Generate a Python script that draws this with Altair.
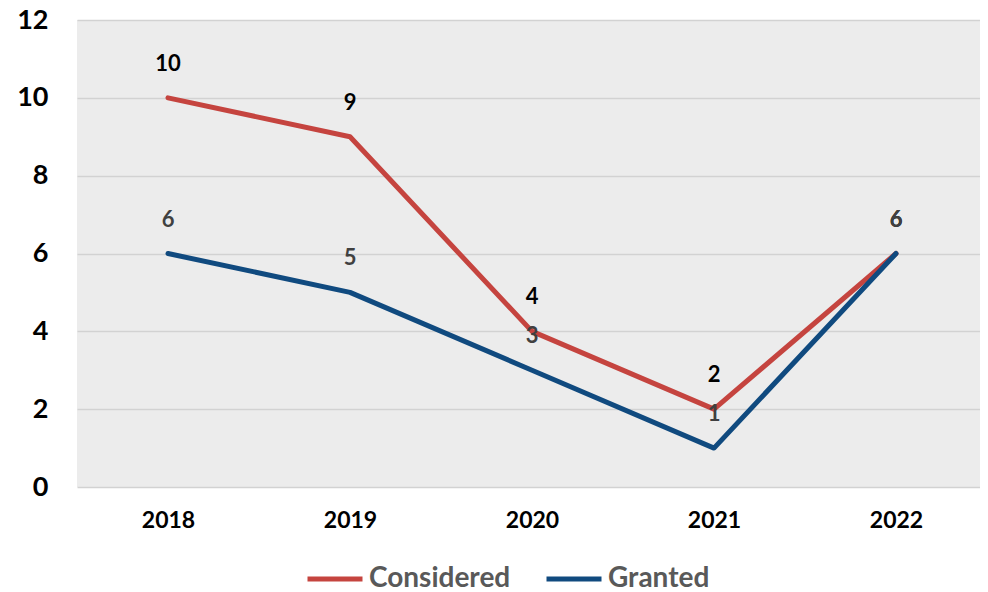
import altair as alt
import pandas as pd

years = ["2018", "2019", "2020", "2021", "2022"]
considered = [10, 9, 4, 2, 6]
granted = [6, 5, 3, 1, 6]
series_names = ["Considered", "Granted"]
colors = ["#C5443F", "#104A7F"]
label_colors = ["#000000", "#404040"]

rows = []
for y, v in zip(years, considered):
    rows.append({"year": y, "value": v, "series": "Considered"})
for y, v in zip(years, granted):
    rows.append({"year": y, "value": v, "series": "Granted"})
df = pd.DataFrame(rows)

FONT = "Lato"

x_scale = alt.Scale(paddingInner=0, paddingOuter=0, range=[0, 910])

x_enc = alt.X("year:N", sort=years, title=None, scale=x_scale,
              axis=alt.Axis(labelAngle=0, labelFont=FONT, labelFontSize=23,
                            labelFontWeight="bold", labelColor="#000000",
                            labelPadding=22, ticks=False, domain=False, grid=False))
y_enc = alt.Y("value:Q", title=None,
              scale=alt.Scale(domain=[0, 12], nice=False),
              axis=alt.Axis(values=[0, 2, 4, 6, 8, 10, 12], labelFont=FONT,
                            labelFontSize=27, labelFontWeight="bold",
                            labelColor="#000000", labelPadding=29,
                            ticks=False, domain=False, grid=True,
                            gridColor="#d2d2d2", gridWidth=1.5))

lines = alt.Chart(df).mark_line(strokeWidth=5, strokeCap="round", strokeJoin="round").encode(
    x=x_enc,
    y=y_enc,
    color=alt.Color("series:N", sort=series_names,
                    scale=alt.Scale(domain=series_names, range=colors),
                    legend=alt.Legend(title=None, orient="none", direction="horizontal",
                                      legendX=228, legendY=529,
                                      symbolType="stroke", symbolSize=3025,
                                      symbolStrokeWidth=5,
                                      labelFont=FONT, labelFontSize=28,
                                      labelFontWeight="bold", labelColor="#595959",
                                      labelOffset=4, columnPadding=25)),
    detail="series:N",
)

labels = alt.Chart(df).mark_text(dy=-34, font=FONT, fontSize=22, fontWeight="bold").encode(
    x=alt.X("year:N", sort=years, scale=x_scale),
    y=alt.Y("value:Q"),
    text=alt.Text("value:Q"),
    color=alt.Color("series:N", scale=alt.Scale(domain=series_names, range=label_colors), legend=None),
)

chart = alt.layer(lines, labels).resolve_scale(color="independent").properties(
    width=903, height=467,
    autosize=alt.AutoSizeParams(type="none"),
    padding={"left": 69, "top": 12, "right": 0, "bottom": 104},
    background="#ffffff",
).configure_view(fill="#ececec", stroke=None)

chart.save("out.html", embed_options={"renderer": "svg", "actions": False})
